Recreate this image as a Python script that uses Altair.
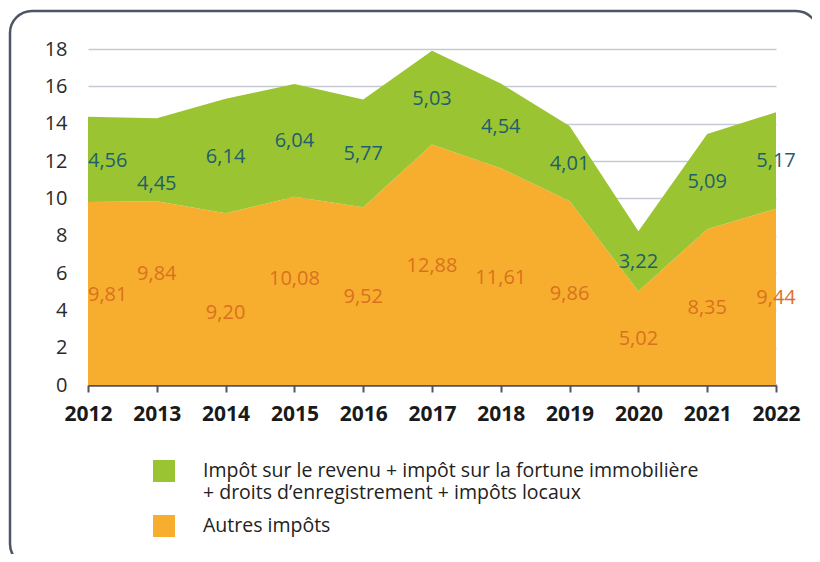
import altair as alt
import pandas as pd

years = [2012, 2013, 2014, 2015, 2016, 2017, 2018, 2019, 2020, 2021, 2022]
autres = [9.81, 9.84, 9.20, 10.08, 9.52, 12.88, 11.61, 9.86, 5.02, 8.35, 9.44]
ir_ifi = [4.56, 4.45, 6.14, 6.04, 5.77, 5.03, 4.54, 4.01, 3.22, 5.09, 5.17]
# label anchors (data units)
lab_autres = [4.82, 5.95, 3.86, 5.68, 4.71, 6.37, 5.73, 4.87, 2.46, 4.12, 4.66]
lab_ir = [12.0, 10.77, 12.21, 13.07, 12.37, 15.32, 13.82, 11.84, 6.59, 10.87, 12.0]
y_ticks = [0, 2, 4, 6, 8, 10, 12, 14, 16, 18]

s_green = "Impôt sur le revenu + impôt sur la fortune immobilière\n+ droits d’enregistrement + impôts locaux"
s_orange = "Autres impôts"
green = "#9BC432"
orange = "#F7AE2E"
green_txt = "#1F5E6C"
orange_txt = "#D9721E"
FONT = "Open Sans"

rows = []
for i, y in enumerate(years):
    rows.append({"year": y, "serie": s_orange, "value": autres[i], "ord": 0})
    rows.append({"year": y, "serie": s_green, "value": ir_ifi[i], "ord": 1})
df = pd.DataFrame(rows)

lab_rows = []
for i, y in enumerate(years):
    lab_rows.append({"year": y, "ly": lab_autres[i], "txt": f"{autres[i]:.2f}".replace(".", ","), "kind": "o"})
    lab_rows.append({"year": y, "ly": lab_ir[i], "txt": f"{ir_ifi[i]:.2f}".replace(".", ","), "kind": "g"})
ldf = pd.DataFrame(lab_rows)

xscale = alt.Scale(domain=[years[0], years[-1]], nice=False, zero=False)
yscale = alt.Scale(domain=[0, 18], nice=False)

xaxis = alt.Axis(values=years, format="d", grid=False, domain=True,
                 domainColor="#4E5565", domainWidth=2.5, ticks=True,
                 tickColor="#4E5565", tickWidth=2, tickSize=7,
                 labelFont=FONT, labelFontSize=21, labelFontWeight="bold",
                 labelColor="#1a1a1a", labelPadding=11, labelFlush=False,
                 labelOverlap=False)
yaxis = alt.Axis(values=y_ticks, domain=False, ticks=False,
                 grid=True, gridColor="#C4C9D3", gridWidth=1.5,
                 labelFont=FONT, labelFontSize=20, labelColor="#2a2a2a",
                 labelPadding=21, labelOverlap=False)

area = alt.Chart(df).mark_area(opacity=1).encode(
    x=alt.X("year:Q", scale=xscale, title=None, axis=xaxis),
    y=alt.Y("value:Q", stack="zero", scale=yscale, title=None, axis=yaxis),
    color=alt.Color("serie:N",
                    scale=alt.Scale(domain=[s_green, s_orange], range=[green, orange]),
                    legend=alt.Legend(title=None, orient="none", legendX=65, legendY=411,
                                      symbolType="square", symbolSize=484, symbolStrokeWidth=0,
                                      symbolOpacity=1,
                                      labelFont=FONT, labelFontSize=19.5, labelColor="#222222",
                                      labelLimit=0, labelOffset=28, rowPadding=13, padding=0,
                                      labelExpr="split(datum.label, '\\n')")),
    order=alt.Order("ord:Q"),
)

def labels(kind, color, first):
    filt = f"datum.kind == '{kind}' && datum.year {'==' if first else '!='} {years[0]}"
    return alt.Chart(ldf).transform_filter(filt).mark_text(
        font=FONT, fontSize=20, color=color, baseline="middle",
        align="left" if first else "center",
    ).encode(
        x=alt.X("year:Q", scale=xscale, title=None, axis=xaxis),
        y=alt.Y("ly:Q", scale=yscale, title=None, axis=yaxis),
        text="txt:N",
    )

frame = alt.Chart(pd.DataFrame({"a": [0]})).mark_rect(
    filled=False, stroke="#4E5565", strokeWidth=2.5, cornerRadius=22
).encode(
    x=alt.value(-78), x2=alt.value(730), y=alt.value(-38), y2=alt.value(517)
)

chart = alt.layer(
    area,
    labels("o", orange_txt, True), labels("o", orange_txt, False),
    labels("g", green_txt, True), labels("g", green_txt, False),
    frame,
).properties(
    width=688, height=336,
    autosize=alt.AutoSizeParams(type="none"),
    padding={"left": 80, "top": 41, "right": 36, "bottom": 169},
    background="white",
).configure_view(stroke=None)

chart.save("out.html", embed_options={"renderer": "svg", "actions": False})
